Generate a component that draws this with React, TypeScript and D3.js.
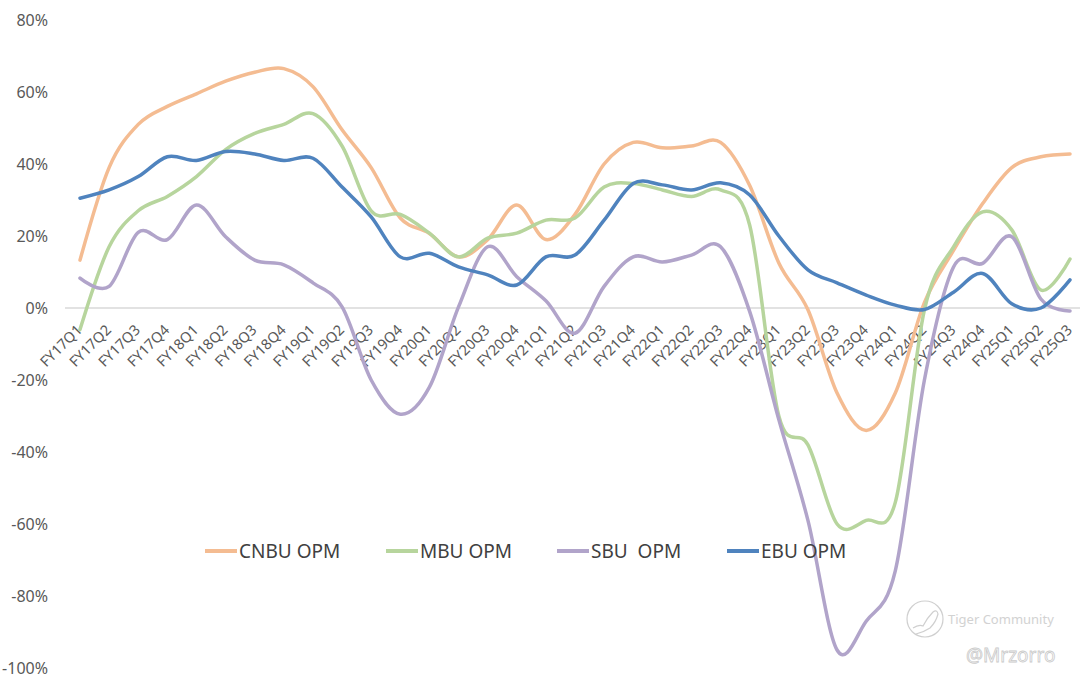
import React from "react";
import * as d3 from "d3";

const categories = [
  "FY17Q1", "FY17Q2", "FY17Q3", "FY17Q4",
  "FY18Q1", "FY18Q2", "FY18Q3", "FY18Q4",
  "FY19Q1", "FY19Q2", "FY19Q3", "FY19Q4",
  "FY20Q1", "FY20Q2", "FY20Q3", "FY20Q4",
  "FY21Q1", "FY21Q2", "FY21Q3", "FY21Q4",
  "FY22Q1", "FY22Q2", "FY22Q3", "FY22Q4",
  "FY23Q1", "FY23Q2", "FY23Q3", "FY23Q4",
  "FY24Q1", "FY24Q2", "FY24Q3", "FY24Q4",
  "FY25Q1", "FY25Q2", "FY25Q3",
];

const cnbuOPM = [13.3, 39, 51, 56, 59.5, 63, 65.5, 66.5, 61.5, 49.5, 39, 25, 20.7, 14.2, 19, 28.6, 19, 26, 40, 46, 44.5, 45, 46, 34, 12.5, -0.5, -23.6, -34, -23.6, 1.5, 16, 29, 39, 42, 42.8];
const mbuOPM = [-6, 17, 27, 31, 36.5, 44, 48.5, 51, 54, 45, 27, 26, 20.8, 14.2, 19.4, 20.8, 24.4, 25, 33.6, 34.6, 32.8, 31, 32.8, 23, -30, -38, -60, -59, -54, -0.5, 17, 26.7, 21.7, 5, 13.6];
const sbuOPM = [8.3, 6, 21, 19, 28.6, 19.8, 13.3, 12, 7, 0.3, -20, -29.5, -22, 0.3, 17, 8.7, 2, -7, 6, 14.2, 12.8, 14.7, 17, -1, -31, -59, -95, -87, -73, -20, 11.4, 12.4, 19.8, 2.5, -0.8];
const ebuOPM = [30.5, 32.8, 36.5, 42, 41, 43.5, 42.8, 41, 41.6, 33.6, 25.3, 14.2, 15.2, 11.4, 9.2, 6.4, 14.2, 14.7, 24.4, 34.6, 34.2, 32.8, 34.8, 31.4, 20, 10.6, 7, 3.6, 0.8, -0.4, 4.4, 9.6, 1.2, 0, 7.8];

const yTicks = [80, 60, 40, 20, 0, -20, -40, -60, -80, -100];

const seriesNames = ["CNBU OPM", "MBU OPM", "SBU  OPM", "EBU OPM"];
const seriesColors = ["#F4BC92", "#B7D59D", "#B1A4CA", "#4F83BE"];
const seriesData = [cnbuOPM, mbuOPM, sbuOPM, ebuOPM];

const W = 1080;
const H = 679;
const FONT = "'Noto Sans', 'Open Sans', sans-serif";

export default function App() {
  const x = d3.scalePoint<string>().domain(categories).range([80, 1070]);
  const y = d3.scaleLinear().domain([-100, 80]).range([668, 20]);

  const line = d3
    .line<number>()
    .x((_, i) => x(categories[i]) as number)
    .y((d) => y(d))
    .curve(d3.curveCardinal.tension(0));

  const legendX = [205, 386, 557, 727];
  const legendY = 551;

  return (
    <svg
      width={W}
      height={H}
      style={{ position: "absolute", left: 0, top: 0, background: "#fff" }}
      fontFamily={FONT}
    >
      <rect x={0} y={0} width={W} height={H} fill="#fff" />
      {/* zero line */}
      <line x1={65} x2={W} y1={y(0)} y2={y(0)} stroke="#D9D9D9" strokeWidth={1.5} />

      {/* y axis labels */}
      {yTicks.map((t) => (
        <text
          key={t}
          x={48}
          y={y(t)}
          dy="0.35em"
          textAnchor="end"
          fontSize={16}
          fill="#595959"
        >
          {`${t}%`}
        </text>
      ))}

      {/* x axis labels */}
      {categories.map((c) => (
        <text
          key={c}
          transform={`translate(${(x(c) as number) + 3},${y(0) + 23}) rotate(-45)`}
          textAnchor="end"
          fontSize={14.5}
          fill="#595959"
        >
          {c}
        </text>
      ))}

      {/* series */}
      {seriesData.map((s, k) => (
        <path
          key={seriesNames[k]}
          d={line(s) || ""}
          fill="none"
          stroke={seriesColors[k]}
          strokeWidth={3.5}
          strokeLinecap="round"
          strokeLinejoin="round"
        />
      ))}

      {/* legend */}
      {seriesNames.map((n, k) => (
        <g key={n}>
          <line
            x1={legendX[k]}
            x2={legendX[k] + 32}
            y1={legendY}
            y2={legendY}
            stroke={seriesColors[k]}
            strokeWidth={4}
          />
          <text
            x={legendX[k] + 34}
            y={legendY}
            dy="0.35em"
            fontSize={19}
            fill="#404040"
            style={{ whiteSpace: "pre" }}
          >
            {n}
          </text>
        </g>
      ))}

      {/* watermark */}
      <g opacity={0.8}>
        <circle cx={925} cy={619} r={18} fill="none" stroke="#C4C4C4" strokeWidth={1.2} />
        <path
          d="M913,628 q6,-4 10,-2 q4,-8 10,-14 q4,-3 5,2 q-2,8 -8,14 q-6,4 -14,6"
          fill="none"
          stroke="#C4C4C4"
          strokeWidth={1.2}
        />
        <text x={948} y={619} dy="0.35em" fontSize={13} fill="#C8C8C8">
          Tiger Community
        </text>
        <text x={966} y={662} fontSize={19} fill="#fff" stroke="#BDBDBD" strokeWidth={0.8}>
          @Mrzorro
        </text>
      </g>
    </svg>
  );
}
